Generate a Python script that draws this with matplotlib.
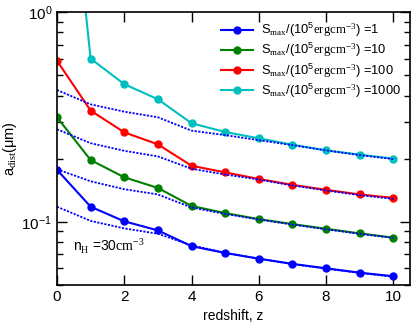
import numpy as np
import matplotlib
matplotlib.use("Agg")
import matplotlib.pyplot as plt

plt.rcParams["font.family"] = ["Liberation Sans", "DejaVu Sans"]
plt.rcParams["mathtext.fontset"] = "custom"
plt.rcParams["mathtext.rm"] = "Liberation Serif"
plt.rcParams["mathtext.it"] = "Liberation Sans:italic"
plt.rcParams["mathtext.sf"] = "Liberation Sans"
plt.rcParams["mathtext.default"] = "regular"

z = [0, 1, 2, 3, 4, 5, 6, 7, 8, 9, 10]
s_max = ["1", "10", "100", "1000"]
colors = ["b", "g", "r", "c"]

# dust size with grain shattering, one curve per S_max
a_s1 = [0.177, 0.118, 0.1005, 0.091, 0.0765, 0.071, 0.0667, 0.063, 0.060, 0.0572, 0.055]
a_s10 = [0.315, 0.197, 0.163, 0.145, 0.119, 0.110, 0.103, 0.0975, 0.0926, 0.088, 0.084]
a_s100 = [0.586, 0.339, 0.267, 0.234, 0.185, 0.172, 0.160, 0.150, 0.142, 0.135, 0.130]
a_s1000 = [20.0, 0.600, 0.453, 0.384, 0.295, 0.268, 0.250, 0.233, 0.219, 0.209, 0.200]

# dotted reference curves
d_s1 = [0.118, 0.101, 0.093, 0.0877, 0.0772, 0.0712, 0.0667, 0.0628, 0.0598, 0.0570, 0.0547]
d_s10 = [0.178, 0.156, 0.143, 0.135, 0.117, 0.109, 0.1025, 0.097, 0.092, 0.0876, 0.0838]
d_s100 = [0.276, 0.237, 0.218, 0.205, 0.179, 0.168, 0.159, 0.149, 0.141, 0.134, 0.1285]
d_s1000 = [0.425, 0.363, 0.335, 0.315, 0.272, 0.259, 0.245, 0.232, 0.219, 0.208, 0.199]

fig = plt.figure(figsize=(4.16, 3.26), dpi=100)
ax = fig.add_axes([0.137, 0.126, 0.849, 0.837])

for a, s, c in zip([a_s1, a_s10, a_s100, a_s1000], s_max, colors):
    ax.plot(z, a, "-o", color=c, lw=1.5, ms=5,
            label=r"S$_{\rm max}$/(10$^5$${\rm erg cm^{-3}}$) =" + s)
for d in [d_s1, d_s10, d_s100, d_s1000]:
    ax.plot(z, d, color="b", lw=1.3, dashes=(1.2, 0.8))

ax.set_yscale("log")
ax.set_xlim(0, 10.5)
ax.set_ylim(0.05, 1.0)
ax.set_xticks([0, 2, 4, 6, 8, 10])
ax.tick_params(which="both", direction="in", top=True, right=True, labelsize=11)
ax.tick_params(which="major", length=7, width=1)
ax.tick_params(which="minor", length=4, width=1)
for sp in ax.spines.values():
    sp.set_linewidth(1.2)

ax.set_xlabel("redshift, z", fontsize=10)
ax.set_ylabel(r"a$_{\rm dist}$($\mu$m)", fontsize=10.5, labelpad=2)
ax.text(0.48, 0.076, r"n$_{\rm H}$ =30${\rm cm^{-3}}$", fontsize=10, va="center")

ax.legend(loc="upper right", frameon=False, fontsize=9.3, numpoints=1,
          handlelength=2.5, handletextpad=0.6, labelspacing=0.15, borderaxespad=0.3)

fig.savefig("out.png", dpi=100)
